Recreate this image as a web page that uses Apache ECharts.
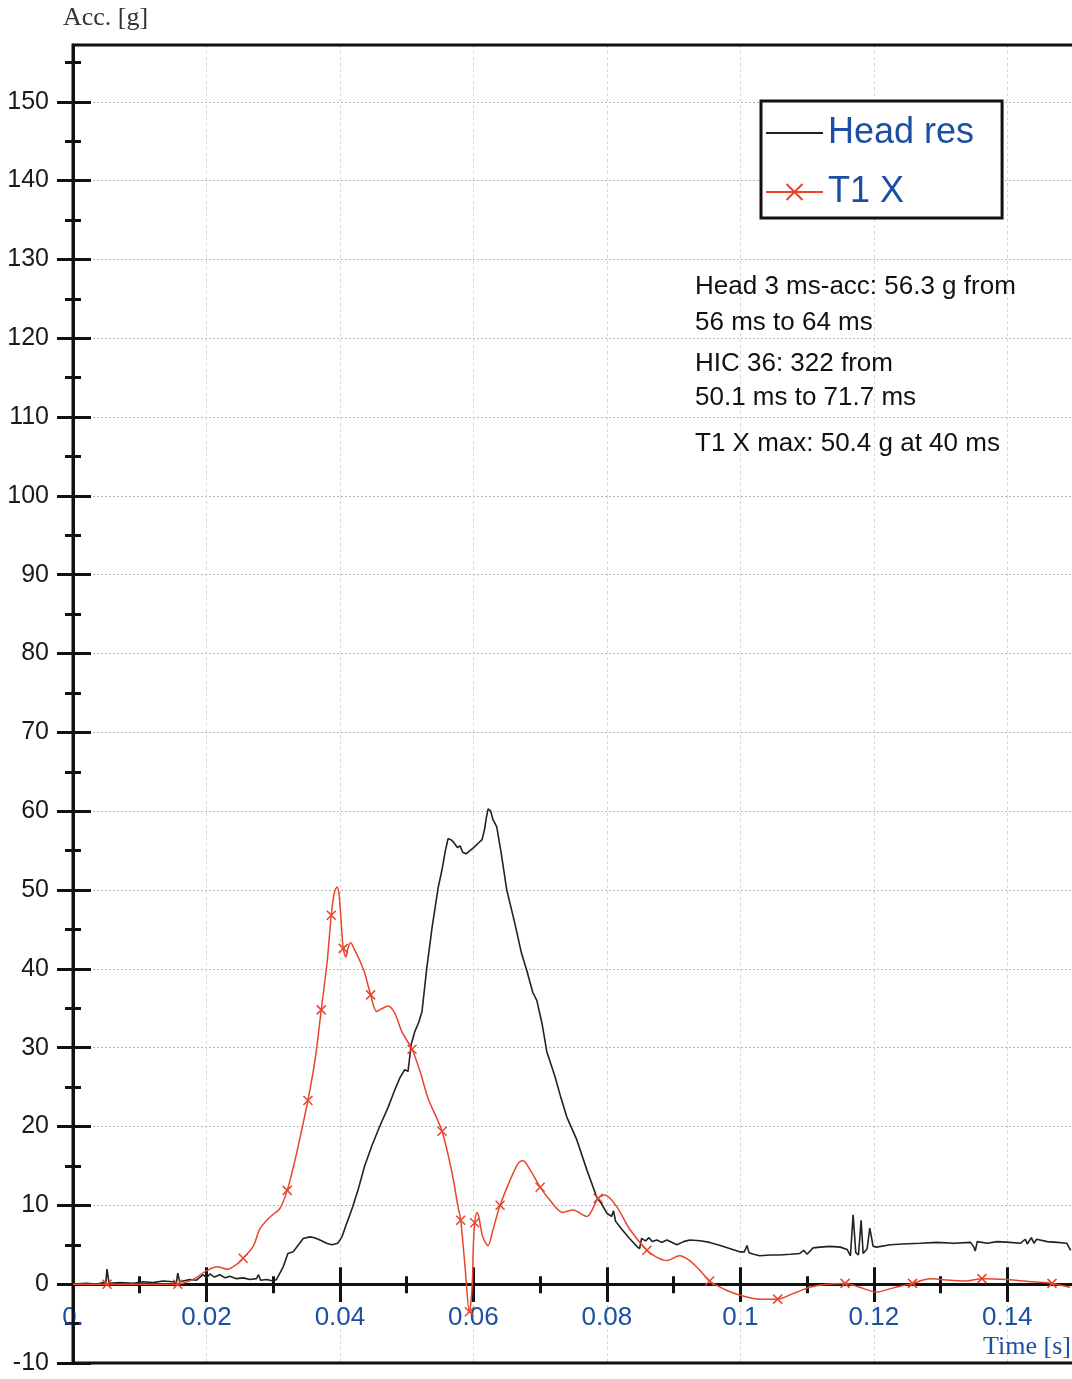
<!DOCTYPE html>
<html><head><meta charset="utf-8">
<script src="https://cdn.jsdelivr.net/npm/echarts@6/dist/echarts.min.js"></script>
<style>html,body{margin:0;padding:0;background:#fff}#c{width:1072px;height:1379px}</style>
</head><body><div id="c"></div><script>
// ---- data ----
const headTime = [0.0000,0.0020,0.0035,0.0045,0.0049,0.0051,0.0054,0.0070,0.0090,0.0105,0.0120,0.0135,0.0150,0.0155,0.0157,0.0160,0.0175,0.0185,0.0195,0.0200,0.0205,0.0212,0.0220,0.0228,0.0235,0.0245,0.0255,0.0265,0.0275,0.0278,0.0281,0.0290,0.0300,0.0305,0.0315,0.0322,0.0330,0.0345,0.0355,0.0362,0.0370,0.0380,0.0388,0.0397,0.0403,0.0410,0.0414,0.0419,0.0427,0.0437,0.0448,0.0460,0.0472,0.0482,0.0490,0.0497,0.0502,0.0507,0.0512,0.0518,0.0523,0.0530,0.0538,0.0547,0.0553,0.0558,0.0562,0.0566,0.0570,0.0576,0.0580,0.0584,0.0589,0.0595,0.0602,0.0608,0.0613,0.0617,0.0619,0.0622,0.0626,0.0629,0.0635,0.0642,0.0650,0.0662,0.0672,0.0680,0.0689,0.0695,0.0703,0.0710,0.0722,0.0731,0.0740,0.0755,0.0770,0.0785,0.0792,0.0800,0.0807,0.0810,0.0813,0.0822,0.0834,0.0846,0.0849,0.0852,0.0858,0.0863,0.0868,0.0875,0.0882,0.0890,0.0905,0.0915,0.0924,0.0940,0.0954,0.0970,0.0985,0.0999,0.1006,0.1010,0.1013,0.1020,0.1029,0.1045,0.1059,0.1075,0.1089,0.1095,0.1100,0.1109,0.1120,0.1134,0.1150,0.1160,0.1165,0.1169,0.1173,0.1177,0.1181,0.1184,0.1190,0.1194,0.1199,0.1204,0.1225,0.1243,0.1270,0.1294,0.1320,0.1345,0.1350,0.1352,0.1355,0.1370,0.1385,0.1404,0.1420,0.1427,0.1430,0.1436,0.1440,0.1444,0.1460,0.1475,0.1489,0.1495];
const headAcc = [0.0,0.1,0.0,0.2,0.1,1.9,0.1,0.2,0.1,0.3,0.2,0.4,0.3,0.2,1.4,0.3,0.6,0.5,1.2,0.8,1.3,0.9,1.2,0.8,1.0,0.7,0.8,0.6,0.7,1.2,0.5,0.6,0.4,0.6,2.2,3.9,4.1,5.8,6.0,5.9,5.6,5.2,5.0,5.2,6.0,7.7,8.6,9.8,11.9,15.0,17.6,20.1,22.4,24.6,26.2,27.2,27.0,30.5,32.0,33.2,34.6,40.0,45.2,50.2,52.6,55.0,56.5,56.4,56.1,55.4,55.6,54.8,54.6,55.0,55.5,56.0,56.4,57.8,59.0,60.3,60.0,59.0,58.0,54.5,50.0,45.8,42.0,39.8,37.0,36.0,33.0,29.5,26.4,23.7,21.2,18.3,14.5,11.0,10.2,9.0,8.6,9.3,8.0,7.0,5.8,4.7,4.5,5.8,5.5,5.9,5.4,5.6,5.3,5.6,5.0,5.4,5.6,5.5,5.3,4.9,4.5,4.1,4.1,4.9,4.0,3.8,3.6,3.7,3.7,3.8,3.9,4.3,3.8,4.6,4.7,4.8,4.7,4.4,3.6,8.8,4.0,3.7,8.1,3.9,4.5,7.1,4.8,4.7,5.0,5.1,5.2,5.3,5.2,5.3,4.7,4.2,5.4,5.2,5.4,5.3,5.2,5.7,5.1,5.9,5.2,5.7,5.4,5.3,5.2,4.3];

const t1Time = [0.0000,0.0051,0.0100,0.0157,0.0180,0.0198,0.0216,0.0231,0.0245,0.0255,0.0270,0.0280,0.0295,0.0310,0.0321,0.0332,0.0340,0.0352,0.0363,0.0372,0.0381,0.0387,0.0392,0.0396,0.0399,0.0403,0.0405,0.0409,0.0412,0.0416,0.0422,0.0430,0.0437,0.0446,0.0455,0.0464,0.0472,0.0482,0.0493,0.0508,0.0520,0.0532,0.0553,0.0568,0.0577,0.0581,0.0587,0.0594,0.0598,0.0600,0.0602,0.0605,0.0608,0.0614,0.0622,0.0629,0.0640,0.0655,0.0667,0.0674,0.0685,0.0700,0.0715,0.0734,0.0749,0.0770,0.0787,0.0797,0.0815,0.0834,0.0860,0.0875,0.0890,0.0909,0.0924,0.0939,0.0954,0.0980,0.1004,0.1029,0.1056,0.1079,0.1104,0.1130,0.1157,0.1179,0.1204,0.1228,0.1258,0.1284,0.1299,0.1339,0.1362,0.1399,0.1438,0.1467,0.1494];
const t1Acc = [0.0,0.0,0.0,0.0,0.6,1.6,2.2,1.9,2.5,3.3,4.8,7.0,8.5,9.6,11.9,15.5,18.5,23.3,28.6,34.8,41.0,46.8,49.8,50.4,49.2,44.5,42.6,41.5,42.6,43.3,42.4,41.0,39.5,36.7,34.6,35.0,35.3,34.4,32.0,29.8,27.0,23.6,19.4,14.1,9.8,8.1,2.7,-3.5,-0.5,5.0,7.8,9.1,8.6,6.0,4.9,6.8,10.0,13.2,15.3,15.7,14.5,12.3,10.6,9.1,9.4,8.6,10.9,11.3,9.8,7.0,4.3,3.4,3.0,3.6,3.0,1.8,0.4,-0.8,-1.5,-1.9,-1.9,-1.2,-0.4,0.0,0.1,-0.4,-1.0,-0.5,0.1,0.7,0.6,0.4,0.7,0.6,0.3,0.1,-0.4];
const t1MarkTime = [0.0051,0.0157,0.0255,0.0321,0.0352,0.0372,0.0387,0.0405,0.0446,0.0508,0.0553,0.0581,0.0594,0.0602,0.0640,0.0700,0.0787,0.0860,0.0954,0.1056,0.1157,0.1258,0.1362,0.1467];

const xMajor = [0, 0.02, 0.04, 0.06, 0.08, 0.1, 0.12, 0.14];
const xMinor = [0.01, 0.03, 0.05, 0.07, 0.09, 0.11, 0.13];
const xLabels = ['0.', '0.02', '0.04', '0.06', '0.08', '0.1', '0.12', '0.14'];
const yMajor = [-10, 0, 10, 20, 30, 40, 50, 60, 70, 80, 90, 100, 110, 120, 130, 140, 150];
const yMinor = [-5, 5, 15, 25, 35, 45, 55, 65, 75, 85, 95, 105, 115, 125, 135, 145, 155];
const annoLines = ['Head 3 ms-acc: 56.3 g from', '56 ms to 64 ms', 'HIC 36: 322 from', '50.1 ms to 71.7 ms', 'T1 X max: 50.4 g at 40 ms'];

// ---- chart ----
const SANS = '"Liberation Sans", Arial, Helvetica, sans-serif';
const SERIF = '"Liberation Serif", "Times New Roman", serif';
const BLUE = '#1c4fa3';
const AX = '#111';
const RED = '#e8452c';
const HEAD = '#222';
const CROSS = 'path://M0,0L10,10M10,0L0,10';
const X_MIN = 0, X_MAX = 0.15, Y_MIN = -10, Y_MAX = 157.2;
const GRID_TOP = 45, GRID_BOTTOM = 16, CH = 1379;
// pixel offset that lifts the labelled x axis from the grid bottom up to y = 0
const ZERO_OFFSET = -Math.round((0 - Y_MIN) / (Y_MAX - Y_MIN) * (CH - GRID_TOP - GRID_BOTTOM));

function xLabelOf(v) {
  let best = 0;
  for (let i = 0; i < xMajor.length; i++) if (Math.abs(xMajor[i] - v) < Math.abs(xMajor[best] - v)) best = i;
  return xLabels[best];
}

function xAxisDef(vals, inside, len, main) {
  const ax = {
    type: 'value', gridIndex: 0, min: X_MIN, max: X_MAX, position: 'bottom',
    axisLine: { show: main, onZero: true, onZeroAxisIndex: 0, lineStyle: { color: AX, width: 3 } },
    axisTick: { show: true, inside: inside, length: len, customValues: vals, lineStyle: { color: AX, width: 3 } },
    axisLabel: { show: false },
    splitLine: { show: false }
  };
  if (main) {
    ax.axisLine.onZero = false;
    ax.offset = ZERO_OFFSET;
    ax.axisLabel = {
      show: true, customValues: vals, margin: 21, fontSize: 26, fontFamily: SANS, color: BLUE,
      hideOverlap: false,
      formatter: function (v) { return xLabelOf(v); }
    };
    ax.splitLine = { show: true, lineStyle: { color: '#d6d6d6', width: 1, type: [3, 3] } };
    ax.name = 'Time [s]';
    ax.nameLocation = 'end';
    ax.nameGap = -3;
    ax.nameMoveOverlap = false;
    ax.nameTextStyle = { align: 'right', verticalAlign: 'top', padding: [50, 0, 0, 0], fontFamily: SERIF, fontSize: 26, color: BLUE };
  }
  return ax;
}
function yAxisDef(vals, inside, len, main) {
  const ax = {
    type: 'value', gridIndex: 0, min: Y_MIN, max: Y_MAX, position: 'left', offset: 0,
    axisLine: { show: main, onZero: false, lineStyle: { color: AX, width: 3 } },
    axisTick: { show: true, inside: inside, length: len, customValues: vals, lineStyle: { color: AX, width: 3 } },
    axisLabel: { show: false },
    splitLine: { show: false }
  };
  if (main) {
    ax.axisLabel = { show: true, customValues: vals, margin: 24, fontSize: 25, fontFamily: SANS, color: '#1a1a1a' };
    ax.splitLine = { show: true, lineStyle: { color: '#b8b8b8', width: 1, type: [2, 2] } };
    ax.name = 'Acc. [g]';
    ax.nameLocation = 'end';
    ax.nameGap = 14;
    ax.nameTextStyle = { align: 'left', verticalAlign: 'bottom', padding: [0, 0, 0, -10], fontFamily: SERIF, fontSize: 26, color: '#333' };
  }
  return ax;
}

const markSet = new Set(t1MarkTime);
const headData = headTime.map((t, i) => [t, headAcc[i]]);
const t1Data = t1Time.map((t, i) => ({ value: [t, t1Acc[i]], symbol: markSet.has(t) ? CROSS : 'none' }));
const annoY = [287, 323, 364, 398, 444];

const chart = echarts.init(document.getElementById('c'), null, { renderer: 'canvas' });
chart.setOption({
  animation: false,
  backgroundColor: '#fff',
  grid: { left: 73, top: GRID_TOP, right: -2, bottom: GRID_BOTTOM, show: true, z: 1, borderColor: AX, borderWidth: 3, containLabel: false, outerBoundsMode: 'none' },
  xAxis: [
    xAxisDef(xMajor, false, 18, true),
    xAxisDef(xMajor, true, 17, false),
    xAxisDef(xMinor, false, 9, false),
    xAxisDef(xMinor, true, 8, false)
  ],
  yAxis: [
    yAxisDef(yMajor, false, 16, true),
    yAxisDef(yMajor, true, 18, false),
    yAxisDef(yMinor, false, 8, false),
    yAxisDef(yMinor, true, 8, false)
  ],
  legend: {
    orient: 'vertical', left: 761, top: 101, padding: [12, 28, 6, 4], itemGap: 19,
    itemWidth: 57, itemHeight: 20, borderColor: AX, borderWidth: 3, backgroundColor: '#fff',
    textStyle: { fontSize: 36, color: BLUE, fontFamily: SANS, lineHeight: 40 },
    data: ['Head res', 'T1 X']
  },
  graphic: annoLines.map((s, i) => ({
    type: 'text', x: 695, y: annoY[i], z: 10,
    style: { text: s, fontSize: 26, fontFamily: SANS, fill: '#111', verticalAlign: 'middle', align: 'left' }
  })),
  series: [
    {
      name: 'Head res', type: 'line', xAxisIndex: 0, yAxisIndex: 0, data: headData,
      symbol: 'none', lineStyle: { color: HEAD, width: 1.6 }, itemStyle: { color: HEAD, opacity: 0 }, z: 3
    },
    {
      name: 'T1 X', type: 'line', xAxisIndex: 0, yAxisIndex: 0, data: t1Data, smooth: 0.3,
      symbol: CROSS, symbolSize: 9, showSymbol: true,
      lineStyle: { color: RED, width: 1.5 },
      itemStyle: { color: RED, borderColor: RED, borderWidth: 1.5 }, z: 4
    }
  ]
});
</script></body></html>
